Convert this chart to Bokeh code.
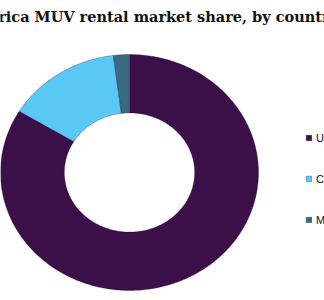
import numpy as np
from bokeh.plotting import figure
from bokeh.models import ColumnDataSource, Legend, LegendItem, Range1d
from bokeh.core.properties import value
from bokeh.embed import file_html
from bokeh.resources import INLINE

title = "North America MUV rental market share, by country"
countries = ["U.S.", "Canada", "Mexico"]
shares = [83.7, 14.3, 2.0]
colors = ["#3b0f47", "#5ac8f5", "#3a6a80"]

W, H = 324, 300
cx_px, cy_px = 129, 172   # donut centre (pixels from top-left)
rx_px, ry_px = 129, 118   # horizontal / vertical outer radius in pixels
inner = 0.505

p = figure(width=W, height=H, output_backend="svg", toolbar_location=None,
           min_border=0, outline_line_color=None)
p.x_range = Range1d(-cx_px / rx_px, (W - cx_px) / rx_px)
p.y_range = Range1d(-(H - cy_px) / ry_px, cy_px / ry_px)
p.axis.visible = False
p.grid.visible = False
p.background_fill_color = "white"
p.border_fill_color = "white"

# wedge outlines built from the data, clockwise from 12 o'clock
vals = np.array(shares, dtype=float)
frac = vals / vals.sum()
ends = np.cumsum(frac)
starts = ends - frac
xs, ys = [], []
for s, e in zip(starts, ends):
    t = np.linspace(s, e, max(int(400 * (e - s)), 4))
    ang = np.pi / 2 - 2 * np.pi * t
    ox, oy = np.cos(ang), np.sin(ang)
    ix, iy = inner * np.cos(ang[::-1]), inner * np.sin(ang[::-1])
    xs.append(np.concatenate([ox, ix]).tolist())
    ys.append(np.concatenate([oy, iy]).tolist())

src = ColumnDataSource(dict(xs=xs, ys=ys, color=colors, label=countries))
r = p.patches("xs", "ys", fill_color="color", line_color="#2a0a33",
              line_width=0.5, line_alpha=0.6, source=src)

legend = Legend(items=[LegendItem(label=value(c), renderers=[r], index=i)
                       for i, c in enumerate(countries)],
                location=(305, 74), orientation="vertical",
                glyph_width=7, glyph_height=7, label_standoff=4,
                label_text_font="Liberation Sans",
                label_text_font_size="11px", label_text_color="#111111",
                label_height=13, spacing=28, padding=0, margin=0,
                border_line_color=None, background_fill_alpha=0)
p.add_layout(legend, "center")

# title drawn as text so it can overflow the canvas like the reference
tx = (-91 - cx_px) / rx_px
ty = (cy_px - 16) / ry_px
p.text(x=[tx], y=[ty], text=[title], text_font=value("DejaVu Serif"),
       text_font_style="bold", text_font_size="14.5px", text_color="#111111",
       text_align="left", text_baseline="alphabetic")

open("out.html", "w").write(file_html(p, INLINE))
